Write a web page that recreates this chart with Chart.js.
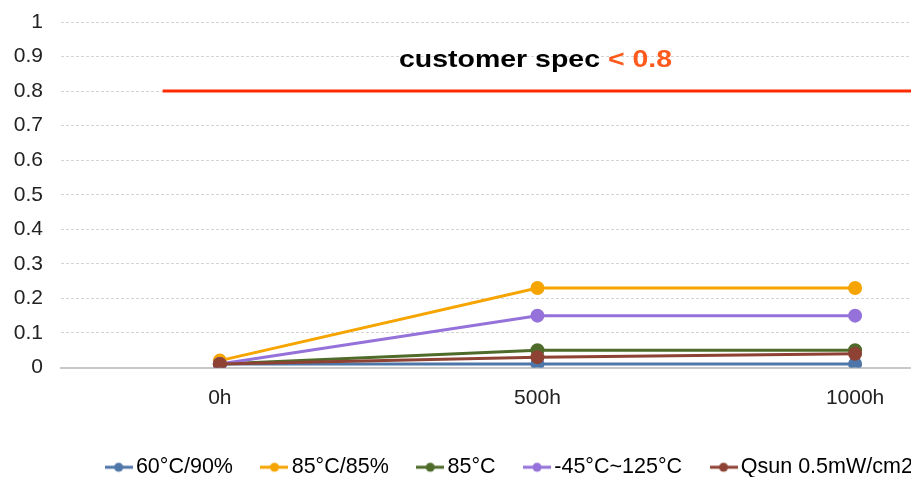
<!DOCTYPE html>
<html>
<head>
<meta charset="utf-8">
<script src="https://cdn.jsdelivr.net/npm/chart.js@4"></script>
<style>
  html, body { margin: 0; padding: 0; background: #fff; overflow: hidden; }
  #wrap { width: 911px; height: 477px; }
  canvas { display: block; }
</style>
</head>
<body>
<div id="wrap"><canvas id="myChart" width="911" height="477"></canvas></div>
<script>
// hours on the x axis
const hours = [0, 500, 1000];
const hourLabels = ['0h', '500h', '1000h'];

// series values
const s60_90 = [0.01, 0.01, 0.01];
const s85_85 = [0.02, 0.23, 0.23];
const s85 = [0.01, 0.05, 0.05];
const sCycle = [0.01, 0.15, 0.15];
const sQsun = [0.01, 0.03, 0.04];

const seriesNames = ['60°C/90%', '85°C/85%', '85°C', '-45°C~125°C', 'Qsun 0.5mW/cm2'];
const seriesColors = ['#4f76a8', '#f5a400', '#4f6b2a', '#9572da', '#8e4234'];

// spec limit
const specLimit = 0.8;
const specRange = [-90, 1088];

const FONT = '"Liberation Sans", Arial, sans-serif';

function legendIcon(color) {
    const c = document.createElement('canvas');
    c.width = 28; c.height = 12;
    const g = c.getContext('2d');
    g.strokeStyle = color;
    g.lineWidth = 3;
    g.beginPath(); g.moveTo(0, 6); g.lineTo(28, 6); g.stroke();
    g.fillStyle = color;
    g.beginPath(); g.arc(14, 6, 4.5, 0, Math.PI * 2); g.fill();
    return c;
}

function toPoints(vals) {
    return hours.map(function (h, i) { return { x: h, y: vals[i] }; });
}

const allSeries = [s60_90, s85_85, s85, sCycle, sQsun];
const datasets = allSeries.map(function (vals, i) {
    return {
        label: seriesNames[i],
        data: toPoints(vals),
        borderColor: seriesColors[i],
        backgroundColor: seriesColors[i],
        borderWidth: 3,
        pointRadius: 5.5,
        pointHoverRadius: 5.5,
        icon: legendIcon(seriesColors[i]),
        order: 5 - i
    };
});

datasets.push({
    label: 'spec',
    data: specRange.map(function (x) { return { x: x, y: specLimit }; }),
    borderColor: '#ff2a00',
    borderWidth: 3,
    pointRadius: 0,
    order: 10
});

const specTitle = {
    id: 'specTitle',
    afterDraw: function (chart) {
        const ctx = chart.ctx;
        ctx.save();
        ctx.font = 'bold 24px ' + FONT;
        ctx.textBaseline = 'middle';
        const a = 'customer spec ';
        const b = '< 0.8';
        const wa = ctx.measureText(a).width;
        const wb = ctx.measureText(b).width;
        const k = 273 / (wa + wb);   // the text in the picture is a bit stretched
        ctx.translate(399, 60);
        ctx.scale(k, 1);
        ctx.fillStyle = '#000';
        ctx.fillText(a, 0, 0);
        ctx.fillStyle = '#ff5a1e';
        ctx.fillText(b, wa, 0);
        ctx.restore();
    }
};

// the legend in the picture sits right of centre
const legendShift = {
    id: 'legendShift',
    beforeDraw: function (chart) {
        const lg = chart.legend;
        if (lg && !lg._shifted) {
            lg.left += 57;
            lg.right += 57;
            lg._shifted = true;
        }
    },
    afterUpdate: function (chart) {
        if (chart.legend) chart.legend._shifted = false;
    }
};

const myChart = new Chart(document.getElementById('myChart').getContext('2d'), {
    type: 'line',
    data: { datasets: datasets },
    options: {
        responsive: false,
        animation: false,
        layout: { autoPadding: false, padding: { top: 22, right: 0, left: 0, bottom: -11 } },
        plugins: {
            tooltip: { enabled: false },
            legend: {
                position: 'bottom',
                labels: {
                    usePointStyle: true,
                    pointStyleWidth: 13,
                    padding: 35,
                    color: '#222',
                    font: { family: FONT, size: 21.5 },
                    generateLabels: function (chart) {
                        return chart.data.datasets.filter(function (d) {
                            return d.icon;
                        }).map(function (d, i) {
                            return {
                                text: d.label,
                                pointStyle: d.icon,
                                fillStyle: d.borderColor,
                                strokeStyle: d.borderColor,
                                lineWidth: 0,
                                datasetIndex: i
                            };
                        });
                    }
                }
            }
        },
        scales: {
            x: {
                type: 'linear',
                min: -250,
                max: 1088,
                afterBuildTicks: function (axis) {
                    axis.ticks = hours.map(function (h) { return { value: h }; });
                },
                afterFit: function (axis) {
                    axis.height = 54;
                    axis.paddingLeft = 0;
                    axis.paddingRight = 0;
                },
                grid: { display: false, drawTicks: false },
                border: { color: '#c8c8c8', width: 2 },
                ticks: {
                    padding: 18,
                    autoSkip: false,
                    maxRotation: 0,
                    color: '#222',
                    font: { family: FONT, size: 21 },
                    callback: function (v) {
                        const i = hours.indexOf(v);
                        return i >= 0 ? hourLabels[i] : '';
                    }
                }
            },
            y: {
                min: 0,
                max: 1,
                afterFit: function (axis) {
                    axis.width = 61;
                    axis.paddingTop = 0;
                    axis.paddingBottom = 0;
                },
                grid: { color: '#d4d4d4', drawTicks: false },
                border: { display: false, dash: [3, 2] },
                ticks: {
                    stepSize: 0.1,
                    padding: 18,
                    color: '#222',
                    font: { family: FONT, size: 21 },
                    callback: function (v) { return Math.round(v * 10) / 10; }
                }
            }
        }
    },
    plugins: [specTitle, legendShift]
});
</script>
</body>
</html>
